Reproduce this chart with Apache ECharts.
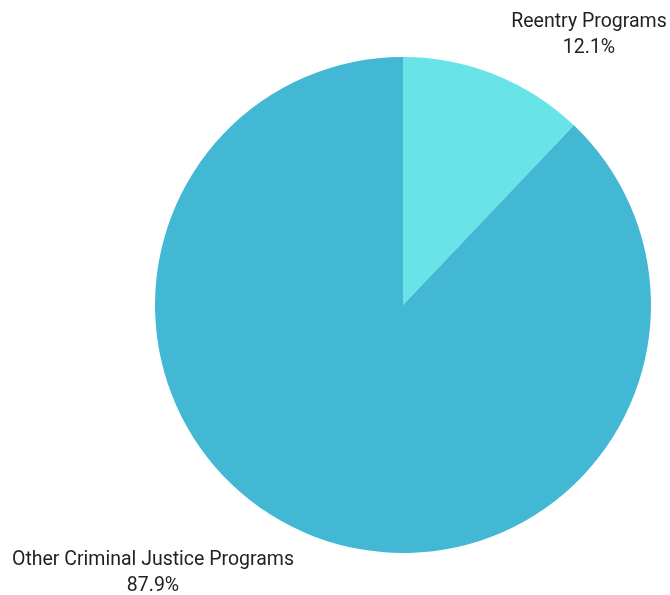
<!DOCTYPE html>
<html>
<head>
<meta charset="UTF-8">
<title>Reentry Programs share</title>
<script src="https://cdn.jsdelivr.net/npm/echarts@6/dist/echarts.min.js"></script>
<style>
  html, body { margin: 0; padding: 0; background: #fff; }
  #main { width: 670px; height: 595px; }
</style>
</head>
<body>
<div id="main"></div>
<script type="text/javascript">
var categories = ['Reentry Programs', 'Other Criminal Justice Programs'];
var shares = [12.1, 87.9];
var colors = ['#68E3E8', '#42B8D5'];

// where each label block is centred
var labelSpots = [[589, 35], [153, 573]];

var myChart = echarts.init(document.getElementById('main'));

var pieData = [];
for (var i = 0; i < categories.length; i++) {
    pieData.push({ name: categories[i], value: shares[i], itemStyle: { color: colors[i] } });
}

var option = {
    animation: false,
    series: [{
        type: 'pie',
        center: [403, 305],
        radius: 248,
        startAngle: 90,
        clockwise: true,
        data: pieData,
        label: {
            show: true,
            position: 'outside',
            formatter: function (p) { return '{t|' + p.name + '}\n{t|' + p.value.toFixed(1) + '%}'; },
            overflow: 'none',
            align: 'center',
            rich: {
                t: {
                    fontFamily: 'Roboto',
                    fontSize: 19.5,
                    lineHeight: 26,
                    color: '#222',
                    align: 'center'
                }
            }
        },
        labelLine: { show: false },
        labelLayout: function (params) {
            var s = labelSpots[params.dataIndex];
            return { x: s[0], y: s[1], align: 'center', verticalAlign: 'middle' };
        },
        emphasis: { disabled: true }
    }]
};

myChart.setOption(option);
</script>
</body>
</html>
